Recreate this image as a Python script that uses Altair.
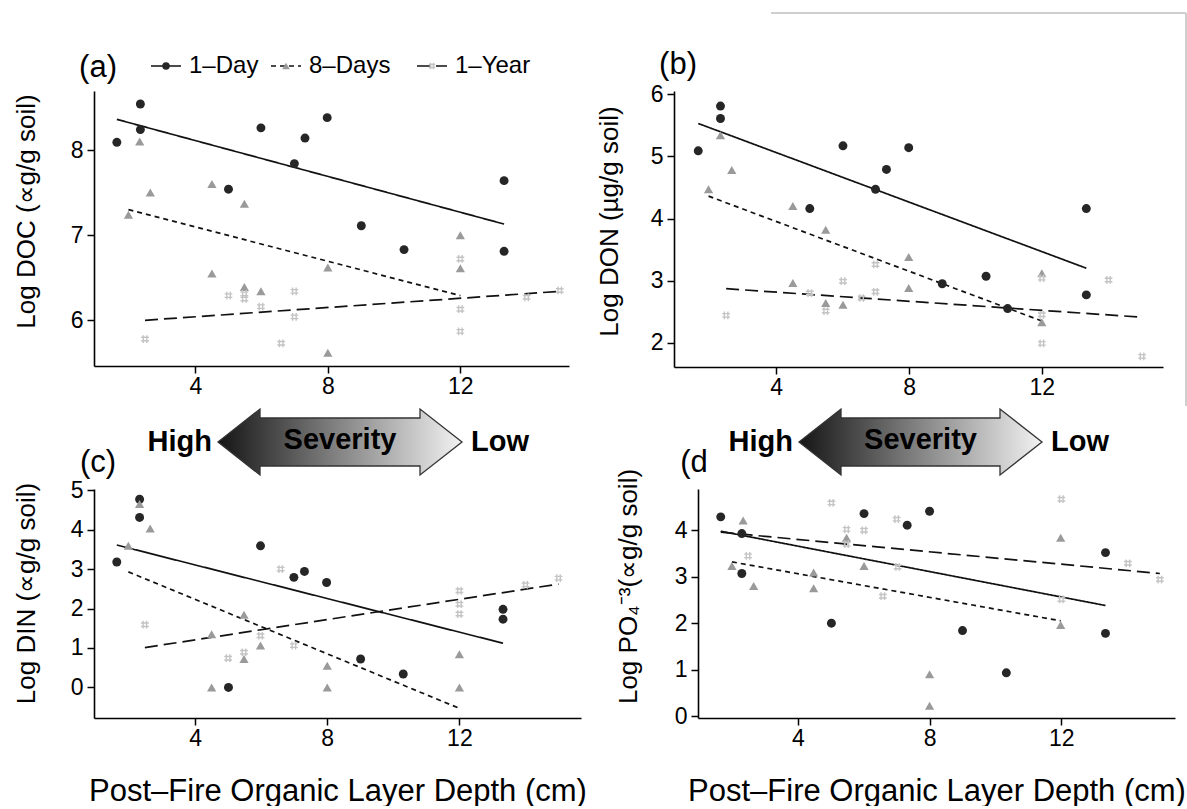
import altair as alt
import pandas as pd

SERIES = ["1–Day", "8–Days", "1–Year"]
X_TICKS = [4, 8, 12]
FONT = "Liberation Sans"
X_TITLE = "Post–Fire Organic Layer Depth (cm)"

# ---------------- Panel (a): Log DOC ----------------
a_day_x = [1.63, 2.34, 2.34, 5.0, 5.98, 6.99, 7.31, 7.98, 9.01, 10.3, 13.32, 13.32]
a_day_y = [8.09, 8.54, 8.24, 7.54, 8.26, 7.84, 8.14, 8.38, 7.11, 6.83, 7.64, 6.81]
a_wk_x = [1.98, 2.32, 2.64, 4.50, 4.50, 5.48, 5.48, 5.98, 8.0, 8.0, 12.0, 12.0]
a_wk_y = [7.24, 8.10, 7.50, 7.60, 6.55, 7.37, 6.39, 6.34, 6.62, 5.62, 7.00, 6.61]
a_yr_x = [2.48, 5.0, 5.48, 5.48, 5.98, 6.59, 6.99, 6.99, 12.0, 12.0, 12.0, 14.0, 15.0]
a_yr_y = [5.78, 6.29, 6.31, 6.25, 6.16, 5.73, 6.34, 6.04, 6.72, 6.13, 5.87, 6.27, 6.35]
a_fit_x = [[1.63, 13.32], [1.98, 12.0], [2.48, 15.0]]
a_fit_y = [[8.36, 7.13], [7.30, 6.29], [6.00, 6.34]]

# ---------------- Panel (b): Log DON ----------------
b_day_x = [1.65, 2.32, 2.32, 5.01, 6.01, 6.99, 7.32, 7.99, 9.0, 10.32, 10.97, 13.34, 13.34]
b_day_y = [5.09, 5.81, 5.61, 4.16, 5.17, 4.47, 4.79, 5.14, 2.95, 3.07, 2.55, 4.16, 2.77]
b_wk_x = [1.96, 2.32, 2.66, 4.50, 5.49, 4.50, 5.49, 6.01, 7.99, 7.99, 12.0, 12.0]
b_wk_y = [4.47, 5.34, 4.78, 4.20, 3.82, 2.96, 2.64, 2.61, 3.38, 2.88, 3.12, 2.33]
b_yr_x = [2.49, 5.01, 5.49, 6.01, 6.57, 6.99, 6.99, 12.0, 12.0, 12.0, 14.01, 15.02]
b_yr_y = [2.44, 2.80, 2.51, 2.99, 2.72, 3.26, 2.82, 3.04, 2.45, 1.99, 3.01, 1.78]
b_fit_x = [[1.65, 13.34], [1.96, 12.0], [2.49, 15.02]]
b_fit_y = [[5.53, 3.20], [4.36, 2.35], [2.87, 2.41]]

# ---------------- Panel (c): Log DIN ----------------
c_day_x = [1.63, 2.32, 2.32, 5.01, 5.98, 6.99, 7.31, 7.98, 9.01, 10.3, 13.32, 13.32]
c_day_y = [3.18, 4.77, 4.31, 0.0, 3.59, 2.79, 2.94, 2.66, 0.72, 0.34, 1.98, 1.73]
c_wk_x = [1.98, 2.32, 2.64, 4.50, 4.50, 5.48, 5.48, 5.98, 8.0, 8.0, 12.0, 12.0]
c_wk_y = [3.59, 4.65, 4.03, 1.35, 0.0, 1.84, 0.72, 1.06, 0.55, 0.0, 0.84, 0.0]
c_yr_x = [2.48, 5.0, 5.48, 5.98, 6.59, 6.99, 12.0, 12.0, 12.0, 14.0, 15.0]
c_yr_y = [1.59, 0.74, 0.89, 1.31, 3.0, 1.06, 2.45, 2.11, 1.86, 2.60, 2.77]
c_fit_x = [[1.63, 13.32], [1.98, 12.0], [2.48, 15.0]]
c_fit_y = [[3.61, 1.12], [2.93, -0.53], [1.01, 2.62]]

# ---------------- Panel (d): Log PO4 ----------------
d_day_x = [1.66, 2.30, 2.30, 5.02, 6.01, 7.32, 8.0, 9.0, 10.33, 13.34, 13.34]
d_day_y = [4.29, 3.93, 3.07, 2.0, 4.36, 4.11, 4.41, 1.84, 0.93, 3.52, 1.78]
d_wk_x = [2.0, 2.34, 2.66, 4.48, 4.48, 5.48, 6.01, 8.0, 8.0, 11.98, 11.98]
d_wk_y = [3.23, 4.21, 2.80, 3.09, 2.75, 3.84, 3.23, 0.90, 0.22, 3.84, 1.96]
d_yr_x = [2.49, 5.02, 5.48, 5.48, 6.01, 6.58, 7.0, 7.03, 12.0, 12.0, 14.02, 14.99]
d_yr_y = [3.45, 4.59, 4.02, 3.70, 4.0, 2.58, 4.24, 3.21, 4.67, 2.51, 3.29, 2.94]
d_fit_x = [[1.66, 13.34], [2.0, 11.98], [1.66, 14.99]]
d_fit_y = [[3.98, 2.38], [3.32, 2.05], [3.96, 3.07]]

HASH = "M-0.45,-1L-0.45,1M0.45,-1L0.45,1M-1,-0.45L1,-0.45M-1,0.45L1,0.45"
MARK = {
    "1–Day": dict(shape="circle", filled=True, color="#262626", size=80),
    "8–Days": dict(shape="triangle-up", filled=True, color="#9a9a9a", size=85),
    "1–Year": dict(shape=HASH, filled=False, color="#c4c4c4", size=60, strokeWidth=1.4),
}
DASH = {"1–Day": [1, 0], "8–Days": [5, 4], "1–Year": [13, 6]}


def one():
    return pd.DataFrame({"k": [0]})


def text_layer(items, size, weight="normal", align="center"):
    df = pd.DataFrame(items, columns=["t", "x", "y"])
    return alt.Chart(df).mark_text(
        font=FONT, fontSize=size, fontWeight=weight, align=align,
        baseline="middle", color="black"
    ).encode(
        text="t:N",
        x=alt.X("x:Q", scale=None, axis=None),
        y=alt.Y("y:Q", scale=None, axis=None),
    )


def arrow_layers(x0, x1, yc):
    head, hh, bh = 42, 33, 24
    xs = [x0, x0 + head, x0 + head + 0.01, x1 - head, x1 - head + 0.01, x1]
    top = [yc, yc - hh, yc - bh, yc - bh, yc - hh, yc]
    bot = [yc, yc + hh, yc + bh, yc + bh, yc + hh, yc]
    df = pd.DataFrame({"x": xs, "y0": top, "y1": bot})
    grad = alt.Gradient(
        gradient="linear",
        stops=[alt.GradientStop(color="#151515", offset=0),
               alt.GradientStop(color="#7a7a7a", offset=0.45),
               alt.GradientStop(color="#f2f2f2", offset=1)],
        x1=0, x2=1, y1=0, y2=0,
    )
    area = alt.Chart(df).mark_area(fill=grad, stroke="#333333", strokeWidth=1.3, opacity=1).encode(
        x=alt.X("x:Q", scale=None, axis=None),
        y=alt.Y("y0:Q", scale=None, axis=None),
        y2="y1:Q",
    )
    mid = (x0 + x1) / 2
    labels = [
        text_layer([("High", x0 - 6, yc)], 29, "bold", "right"),
        text_layer([("Severity", mid, yc - 2)], 29, "bold", "center"),
        text_layer([("Low", x1 + 9, yc)], 29, "bold", "left"),
    ]
    return [area] + labels


def make_panel(pts, fit_x, fit_y, xdom, ydom, yticks, w, h, ytitle, ytx, yty, xtitle, decos):
    xsc = alt.Scale(domain=xdom, nice=False, zero=False)
    ysc = alt.Scale(domain=ydom, nice=False, zero=False)
    xkw = dict(values=X_TICKS, grid=False, tickSize=7, tickWidth=1.5, tickColor="black",
               domainColor="black", domainWidth=1.6, labelFont=FONT, labelFontSize=23,
               labelColor="black", labelPadding=2, labelFlush=False, format="d")
    if xtitle:
        xkw.update(title=xtitle, titleFont=FONT, titleFontSize=31, titleFontWeight="normal",
                   titleColor="black", titleX=w / 2, titleY=73, titleBaseline="middle",
                   titleAlign="center")
    else:
        xkw.update(title=None)
    xax = alt.Axis(**xkw)
    yax = alt.Axis(values=yticks, grid=False, tickSize=7, tickWidth=1.5, tickColor="black",
                   domainColor="black", domainWidth=1.6, labelFont=FONT, labelFontSize=23,
                   labelColor="black", labelPadding=4, labelFlush=False, format="d",
                   title=ytitle, titleFont=FONT, titleFontSize=26, titleFontWeight="normal",
                   titleColor="black", titleAngle=270, titleX=ytx, titleY=yty,
                   titleBaseline="middle", titleAlign="center")

    rows = []
    for s, fx, fy in zip(SERIES, fit_x, fit_y):
        for xv, yv in zip(fx, fy):
            rows.append({"series": s, "x": xv, "y": yv})
    lines = alt.Chart(pd.DataFrame(rows)).mark_line(color="#111111", strokeWidth=1.7).encode(
        x=alt.X("x:Q", scale=xsc, axis=xax),
        y=alt.Y("y:Q", scale=ysc, axis=yax),
        strokeDash=alt.StrokeDash("series:N", scale=alt.Scale(domain=SERIES, range=[DASH[s] for s in SERIES]), legend=None),
        detail="series:N",
    )
    layers = [lines]
    for s in SERIES:
        xs, ys = pts[s]
        df = pd.DataFrame({"x": xs, "y": ys})
        layers.append(alt.Chart(df).mark_point(opacity=1, **MARK[s]).encode(
            x=alt.X("x:Q", scale=xsc, axis=xax),
            y=alt.Y("y:Q", scale=ysc, axis=yax),
        ))
    data_group = alt.layer(*layers)
    if decos:
        deco_group = alt.layer(*decos)
        panel = alt.layer(data_group, deco_group).resolve_scale(x="independent", y="independent")
    else:
        panel = data_group
    return panel.properties(width=w, height=h)


# ---------- decorations ----------
# panel (a): label, legend, page anchor
a_decos = [
    alt.Chart(one()).mark_point(opacity=0, size=1).encode(x=alt.value(-93), y=alt.value(-90)),
    text_layer([("(a)", 4, -23)], 31, "normal", "center"),
]
leg_y = -25
leg_x = [57, 177, 323]
for s, lx in zip(SERIES, leg_x):
    a_decos.append(alt.Chart(one()).mark_rule(color="#111111", strokeWidth=1.6, strokeDash=DASH[s]).encode(
        x=alt.value(lx), x2=alt.value(lx + 30), y=alt.value(leg_y)))
    mk = dict(MARK[s])
    mk["size"] = mk["size"] * 0.7
    a_decos.append(alt.Chart(one()).mark_point(opacity=1, **mk).encode(
        x=alt.value(lx + 15), y=alt.value(leg_y)))
a_decos.append(text_layer([(s, lx + 38, leg_y) for s, lx in zip(SERIES, leg_x)], 24, "normal", "left"))

# panel (b): label and light frame fragment
b_decos = [
    text_layer([("(b)", 4, -26)], 31, "normal", "center"),
    alt.Chart(one()).mark_rule(color="#cfcfcf", strokeWidth=2).encode(
        x=alt.value(97), x2=alt.value(512), y=alt.value(-78)),
    alt.Chart(one()).mark_rule(color="#cfcfcf", strokeWidth=2).encode(
        x=alt.value(512), y=alt.value(-78), y2=alt.value(315)),
]

c_decos = [text_layer([("(c)", 4, -26)], 31, "normal", "center")] + arrow_layers(124, 368, -47)
d_decos = [text_layer([("(d", -4, -26)], 31, "normal", "center")] + arrow_layers(101, 344, -47)

pa = make_panel({"1–Day": (a_day_x, a_day_y), "8–Days": (a_wk_x, a_wk_y), "1–Year": (a_yr_x, a_yr_y)},
                a_fit_x, a_fit_y, [0.94, 15.28], [5.463, 8.693], [6, 7, 8], 475, 275,
                "Log DOC (∝g/g soil)", -68, 120, None, a_decos)
pb = make_panel({"1–Day": (b_day_x, b_day_y), "8–Days": (b_wk_x, b_wk_y), "1–Year": (b_yr_x, b_yr_y)},
                b_fit_x, b_fit_y, [0.92, 15.65], [1.609, 6.053], [2, 3, 4, 5, 6], 489, 276,
                "Log DON (µg/g soil)", -65, 130, None, b_decos)
pc = make_panel({"1–Day": (c_day_x, c_day_y), "8–Days": (c_wk_x, c_wk_y), "1–Year": (c_yr_x, c_yr_y)},
                c_fit_x, c_fit_y, [0.94, 15.68], [-0.775, 5.03], [0, 1, 2, 3, 4, 5], 487, 229,
                "Log DIN (∝g/g soil)", -68, 104, X_TITLE, c_decos)
pd_ = make_panel({"1–Day": (d_day_x, d_day_y), "8–Days": (d_wk_x, d_wk_y), "1–Year": (d_yr_x, d_yr_y)},
                 d_fit_x, d_fit_y, [0.97, 15.45], [-0.043, 4.89], [0, 1, 2, 3, 4], 477, 229,
                 "Log PO₄⁻³(∝g/g soil)", -70, 97, X_TITLE, d_decos)

row1 = alt.hconcat(pa, pb, spacing=105, bounds="flush")
row2 = alt.hconcat(pc, pd_, spacing=117, bounds="flush")
# nested rows count as zero height under flush bounds, so the gap includes row 1's height (276)
chart = alt.vconcat(row1, row2, spacing=398, bounds="flush").properties(
    padding=0, background="white"
).configure_view(stroke=None)

chart.save("out.html", embed_options={"renderer": "svg", "actions": False})
